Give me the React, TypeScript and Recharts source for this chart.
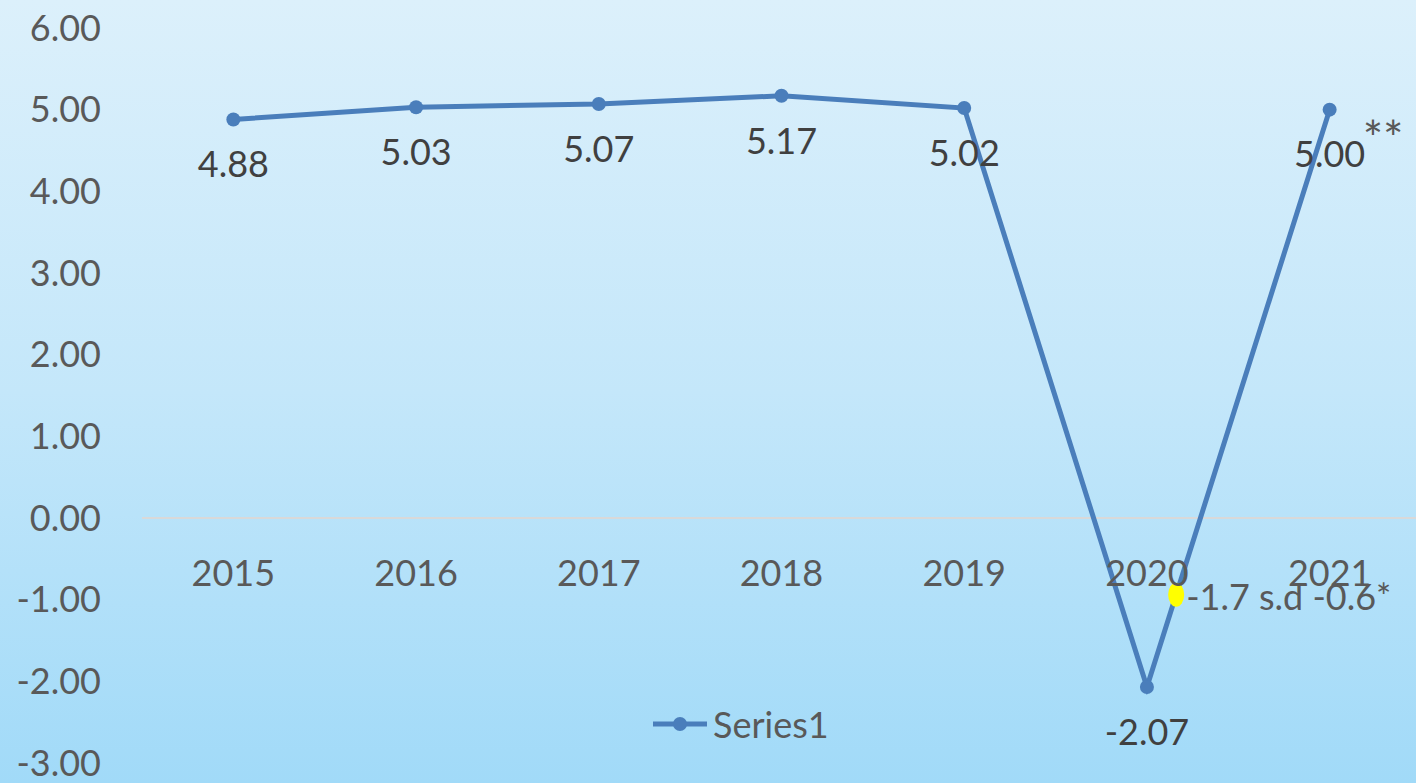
import { LineChart, Line, XAxis, YAxis, ReferenceLine, ReferenceDot, LabelList } from "recharts";

const years = [2015, 2016, 2017, 2018, 2019, 2020, 2021];
const values = [4.88, 5.03, 5.07, 5.17, 5.02, -2.07, 5.0];
const notes = ["", "", "", "", "", "", "**"];
const yTicks = [-3, -2, -1, 0, 1, 2, 3, 4, 5, 6];
// жёлтая точка-аннотация между 2020 и 2021
const markX = 2020.16;
const markY = -0.94;
const markText = "-1.7 s.d -0.6*";

const data = years.map((y, i) => ({ year: y, value: values[i], note: notes[i] }));

const FONT = "Lato, 'Open Sans', sans-serif";
const GREY = "#595959";
const DARK = "#404040";
const BLUE = "#4a7ebb";
const W = 1421, H = 783, TOP = 28, BOTTOM = 20;
const Y_MIN = -3, Y_MAX = 6;
const zeroY = TOP + ((Y_MAX - 0) / (Y_MAX - Y_MIN)) * (H - TOP - BOTTOM);

function YearTick(props: any) {
  const { x, payload } = props;
  return (
    <text x={x} y={zeroY + 55} dy="0.355em" textAnchor="middle" fill={GREY} fontSize={36} fontFamily={FONT}>
      {payload.value}
    </text>
  );
}

function PointLabel(props: any) {
  const { x, y, value, index } = props;
  const note = notes[index];
  return (
    <g>
      <text x={x} y={y + 45} dy="0.355em" textAnchor="middle" fill={DARK} fontSize={36} fontFamily={FONT}>
        {Number(value).toFixed(2)}
      </text>
      {note && (
        <text x={x + 33} y={y + 46} textAnchor="start" fill={GREY} fontSize={48} fontFamily={FONT}>
          {note}
        </text>
      )}
    </g>
  );
}

function MarkShape(props: any) {
  const { cx, cy } = props;
  return (
    <g>
      <ellipse cx={cx} cy={cy} rx={8} ry={12} fill="#ffff00" />
      <text x={cx + 10} y={cy + 2} dy="0.355em" textAnchor="start" fill={GREY} fontSize={36} fontFamily={FONT}>
        {markText}
      </text>
    </g>
  );
}

function LegendBox() {
  return (
    <div
      style={{
        position: "absolute", left: 651, top: 702, display: "flex", alignItems: "center",
        fontFamily: FONT, fontSize: 36, color: GREY,
      }}
    >
      <svg width={58} height={20}>
        <line x1={2} y1={10} x2={56} y2={10} stroke={BLUE} strokeWidth={5} />
        <circle cx={29} cy={10} r={7} fill={BLUE} />
      </svg>
      <span style={{ marginLeft: 4 }}>Series1</span>
    </div>
  );
}

export default function App() {
  return (
    <div
      style={{
        position: "fixed", left: 0, top: 0, width: 1416, height: H, overflow: "hidden",
        background: "linear-gradient(180deg, #dcf0fb 0%, #c4e7fa 50%, #a1daf8 100%)",
      }}
    >
      <LineChart width={W} height={H} data={data} margin={{ top: TOP, right: 0, bottom: 0, left: 0 }}>
        <XAxis
          dataKey="year" type="number" domain={[2014.5, 2021.5]} ticks={years}
          axisLine={false} tickLine={false} height={BOTTOM} tick={<YearTick />} interval={0}
        />
        <YAxis
          domain={[Y_MIN, Y_MAX]} ticks={yTicks} width={142} axisLine={false} tickLine={false}
          tickSize={0} tickMargin={41} interval={0}
          tickFormatter={(v: number) => v.toFixed(2)}
          tick={{ fill: GREY, fontSize: 36, fontFamily: FONT }}
        />
        <ReferenceLine y={0} stroke="#d9d9d9" strokeWidth={2} />
        <Line
          dataKey="value" stroke={BLUE} strokeWidth={5} isAnimationActive={false}
          dot={{ r: 7, fill: BLUE, stroke: "none" }}
        >
          <LabelList dataKey="value" content={<PointLabel />} />
        </Line>
        <ReferenceDot x={markX} y={markY} shape={<MarkShape />} ifOverflow="visible" />
      </LineChart>
      <LegendBox />
    </div>
  );
}
